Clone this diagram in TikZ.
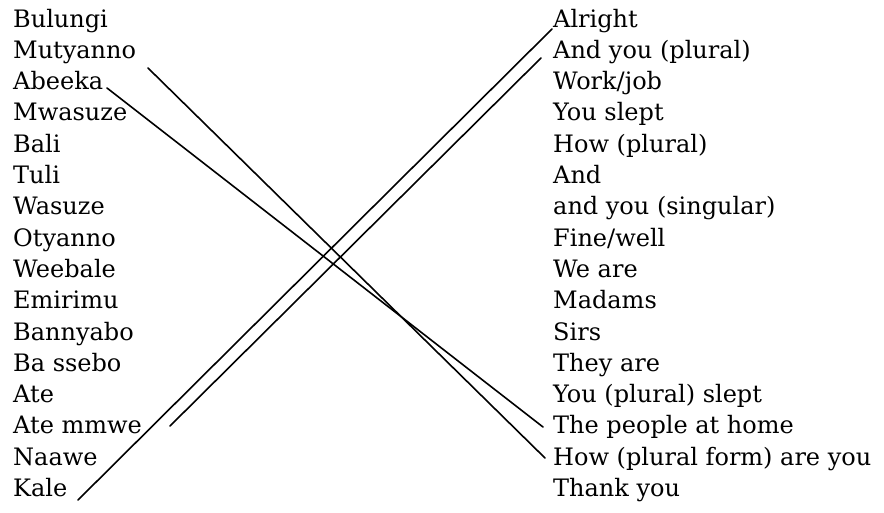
\documentclass[tikz,border=0pt]{standalone}
\usepackage{fontspec}
\setmainfont{DejaVu Serif}
\begin{document}
\begin{tikzpicture}[x=1pt,y=-1pt,
  word/.style={anchor=base west, inner sep=0pt, font=\fontsize{24}{24}\selectfont},
  link/.style={line width=1.6pt, line cap=round}]
\useasboundingbox (0,0) rectangle (884,512);
\foreach \w [count=\i] in {{Bulungi},{Mutyanno},{Abeeka},{Mwasuze},{Bali},{Tuli},{Wasuze},{Otyanno},{Weebale},{Emirimu},{Bannyabo},{Ba ssebo},{Ate},{Ate mmwe},{Naawe},{Kale}}
  \node[word] (l\i) at (13,{27+(\i-1)*31.3}) {\w};
\foreach \w [count=\i] in {{Alright},{And you (plural)},{Work/job},{You slept},{How (plural)},{And},{and you (singular)},{Fine/well},{We are},{Madams},{Sirs},{They are},{You (plural) slept},{The people at home},{How (plural form) are you},{Thank you}}
  \node[word] (r\i) at (553,{27+(\i-1)*31.3}) {\w};
% connector ends
\coordinate (kaleEnd) at (78,500);
\coordinate (alrightEnd) at (552,29);
\coordinate (atemmweEnd) at (170,426);
\coordinate (andyouEnd) at (541,58);
\coordinate (mutyannoEnd) at (148,68);
\coordinate (howformEnd) at (545,458);
\coordinate (abeekaEnd) at (107,88);
\coordinate (peopleEnd) at (543,427);
\draw[link] (kaleEnd) -- (alrightEnd);
\draw[link] (atemmweEnd) -- (andyouEnd);
\draw[link] (mutyannoEnd) -- (howformEnd);
\draw[link] (abeekaEnd) -- (peopleEnd);
\end{tikzpicture}
\end{document}
